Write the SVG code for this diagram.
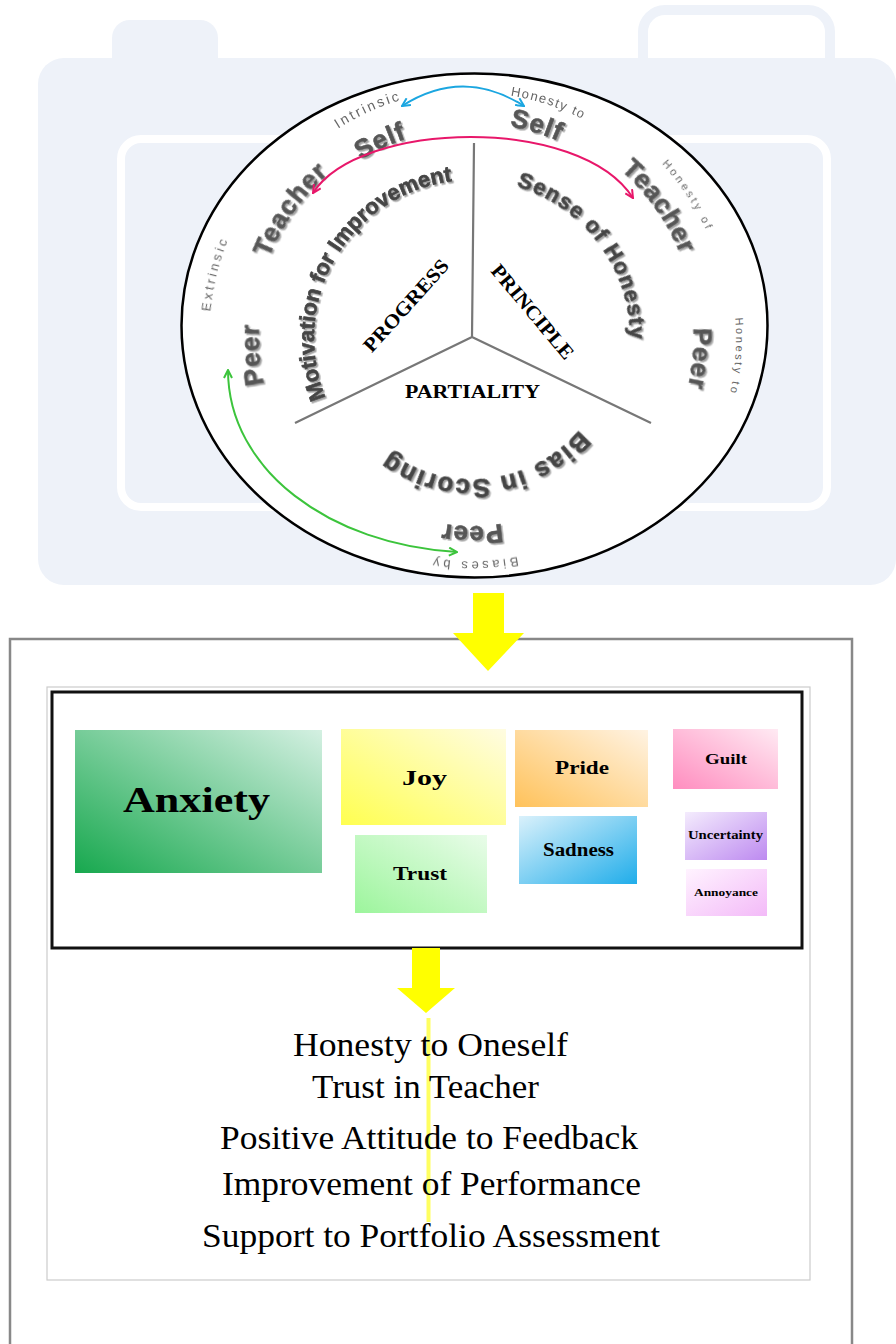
<svg xmlns="http://www.w3.org/2000/svg" width="896" height="1344" viewBox="0 0 896 1344">
<defs>
<style>
.bg{fill:#EEF2F9}
.w{font-family:"Liberation Sans",Arial,sans-serif;font-weight:bold;fill:#575757;stroke:#575757;stroke-width:0.6px;font-size:26px;letter-spacing:1px}
.t{font-family:"Liberation Sans",Arial,sans-serif;font-weight:bold;fill:#454545;stroke:#454545;stroke-width:0.7px;font-size:22px}
.s{font-family:"Liberation Sans",Arial,sans-serif;fill:#666;font-size:13px}
.tn{font-family:"Liberation Serif","Times New Roman",serif;font-weight:bold;fill:#000}
.ls{font-family:"Liberation Serif","Times New Roman",serif;fill:#000;font-size:33px}
.arr{fill:none;stroke-width:2}
</style>
<filter id="sh" x="-10%" y="-10%" width="120%" height="120%"><feDropShadow dx="1.6" dy="1.6" stdDeviation="0.6" flood-color="#999" flood-opacity="0.9"/></filter>
<path id="r141" d="M-140.5,-12.3 A141,141 0 0 1 140.5,-12.3"/>
<path id="r158" d="M-157.4,-13.8 A158,158 0 0 1 157.4,-13.8"/>
<path id="r188" d="M-187.3,-16.4 A188,188 0 0 1 187.3,-16.4"/>
<path id="r210" d="M-209.2,-18.3 A210,210 0 0 1 209.2,-18.3"/>
<path id="r213" d="M-212.2,-18.6 A213,213 0 0 1 212.2,-18.6"/>
<path id="r215" d="M-214.2,-18.7 A215,215 0 0 1 214.2,-18.7"/>
<path id="r218" d="M-217.2,-19.0 A218,218 0 0 1 217.2,-19.0"/>
<path id="r221" d="M-220.2,-19.3 A221,221 0 0 1 220.2,-19.3"/>
<path id="r224" d="M-223.1,-19.5 A224,224 0 0 1 223.1,-19.5"/>
<path id="r225" d="M-224.1,-19.6 A225,225 0 0 1 224.1,-19.6"/>
<path id="r245" d="M-244.1,-21.4 A245,245 0 0 1 244.1,-21.4"/>
<path id="r248" d="M-247.1,-21.6 A248,248 0 0 1 247.1,-21.6"/>
<path id="r258" d="M-257.0,-22.5 A258,258 0 0 1 257.0,-22.5"/>
<path id="r263" d="M-262.0,-22.9 A263,263 0 0 1 262.0,-22.9"/>
<path id="r264" d="M-263.0,-23.0 A264,264 0 0 1 263.0,-23.0"/>
<marker id="mB" viewBox="0 0 10 10" refX="9" refY="5" markerWidth="10" markerHeight="10" markerUnits="userSpaceOnUse" orient="auto-start-reverse"><path d="M1,1 L9,5 L1,9" fill="none" stroke="#1BA6E0" stroke-width="2"/></marker>
<marker id="mP" viewBox="0 0 10 10" refX="9" refY="5" markerWidth="10" markerHeight="10" markerUnits="userSpaceOnUse" orient="auto-start-reverse"><path d="M1,1 L9,5 L1,9" fill="none" stroke="#E8176A" stroke-width="2"/></marker>
<marker id="mG" viewBox="0 0 10 10" refX="9" refY="5" markerWidth="10" markerHeight="10" markerUnits="userSpaceOnUse" orient="auto-start-reverse"><path d="M1,1 L9,5 L1,9" fill="none" stroke="#3CC43C" stroke-width="2"/></marker>
<linearGradient id="gAnx" x1="0" y1="1" x2="1" y2="0"><stop offset="0" stop-color="#17A84E"/><stop offset="1" stop-color="#D4F0E2"/></linearGradient>
<linearGradient id="gJoy" x1="0" y1="1" x2="1" y2="0"><stop offset="0" stop-color="#FFFF50"/><stop offset="1" stop-color="#FFFCE2"/></linearGradient>
<linearGradient id="gTru" x1="0" y1="1" x2="1" y2="0"><stop offset="0" stop-color="#9CF59C"/><stop offset="1" stop-color="#E9FCE9"/></linearGradient>
<linearGradient id="gPri" x1="0" y1="1" x2="1" y2="0"><stop offset="0" stop-color="#FFC25A"/><stop offset="1" stop-color="#FFF3E3"/></linearGradient>
<linearGradient id="gGui" x1="0" y1="1" x2="1" y2="0"><stop offset="0" stop-color="#FF8DBF"/><stop offset="1" stop-color="#FFEAF3"/></linearGradient>
<linearGradient id="gSad" x1="0" y1="0" x2="1" y2="1"><stop offset="0" stop-color="#DAF1FB"/><stop offset="1" stop-color="#20ADEA"/></linearGradient>
<linearGradient id="gUnc" x1="0" y1="0" x2="1" y2="1"><stop offset="0" stop-color="#F4ECFD"/><stop offset="1" stop-color="#BD8AF0"/></linearGradient>
<linearGradient id="gAnn" x1="0" y1="0" x2="1" y2="1"><stop offset="0" stop-color="#FFF3FF"/><stop offset="1" stop-color="#F3BAF8"/></linearGradient>
</defs>
<rect width="896" height="1344" fill="#fff"/>

<g id="camera-background">
<rect x="643" y="10" width="187" height="80" rx="22" fill="#fff" stroke="#EEF2F9" stroke-width="10"/>
<rect class="bg" x="112" y="20" width="106" height="60" rx="18"/>
<rect class="bg" x="38" y="58" width="858" height="527" rx="26"/>
<rect x="121" y="139" width="706" height="368" rx="20" fill="none" stroke="#fff" stroke-width="8"/>
</g>

<g id="wheel">
<ellipse cx="474.5" cy="325.5" rx="293" ry="252" fill="#fff" stroke="#000" stroke-width="2.5"/>
<path d="M472 337 L474 143 M472 337 L295 423 M472 337 L651 423" stroke="#777" stroke-width="2.2" fill="none"/>
</g>

<g id="sector-labels">
<text class="tn" font-size="20" transform="translate(411 310) rotate(-48)" text-anchor="middle" textLength="117" lengthAdjust="spacingAndGlyphs">PROGRESS</text>
<text class="tn" font-size="20" transform="translate(527.5 316) rotate(50)" text-anchor="middle" textLength="117" lengthAdjust="spacingAndGlyphs">PRINCIPLE</text>
<text class="tn" font-size="19" x="405" y="398" textLength="135" lengthAdjust="spacingAndGlyphs">PARTIALITY</text>
</g>

<g id="curved-titles" filter="url(#sh)">
<text class="t" transform="translate(472 338) rotate(-59.75)" text-anchor="middle"><textPath href="#r158" startOffset="50%">Motivation for Improvement</textPath></text>
<text class="t" style="letter-spacing:1.3px" transform="translate(472 338) rotate(53.5)" text-anchor="middle"><textPath href="#r158" startOffset="50%">Sense of Honesty</textPath></text>
<text class="t" style="font-size:26px;letter-spacing:1.5px" transform="translate(472 338) rotate(173.5)" text-anchor="middle"><textPath href="#r141" startOffset="50%">Bias in Scoring</textPath></text>
</g>

<g id="outer-words" filter="url(#sh)">
<text class="w" transform="translate(472 338) rotate(-25)" text-anchor="middle"><textPath href="#r210" startOffset="50%">Self</textPath></text>
<text class="w" transform="translate(472 338) rotate(-54.7)" text-anchor="middle"><textPath href="#r218" startOffset="50%">Teacher</textPath></text>
<text class="w" transform="translate(472 338) rotate(-94.4)" text-anchor="middle"><textPath href="#r213" startOffset="50%">Peer</textPath></text>
<text class="w" transform="translate(472 338) rotate(17)" text-anchor="middle"><textPath href="#r215" startOffset="50%">Self</textPath></text>
<text class="w" transform="translate(472 338) rotate(54.9)" text-anchor="middle"><textPath href="#r225" startOffset="50%">Teacher</textPath></text>
<text class="w" transform="translate(472 338) rotate(95.2)" text-anchor="middle"><textPath href="#r221" startOffset="50%">Peer</textPath></text>
<text class="w" transform="translate(472 338) rotate(180)" text-anchor="middle"><textPath href="#r188" startOffset="50%">Peer</textPath></text>
</g>

<g id="outer-labels">
<text class="s" style="font-size:14px;letter-spacing:2.5px" transform="translate(472 338) rotate(-24.5)" text-anchor="middle"><textPath href="#r248" startOffset="50%">Intrinsic</textPath></text>
<text class="s" style="letter-spacing:1.5px" transform="translate(472 338) rotate(18)" text-anchor="middle"><textPath href="#r245" startOffset="50%">Honesty to</textPath></text>
<text class="s" style="font-size:11px;letter-spacing:3px" transform="translate(472 338) rotate(56.6)" text-anchor="middle"><textPath href="#r258" startOffset="50%">Honesty of</textPath></text>
<text class="s" style="letter-spacing:3px" transform="translate(472 338) rotate(-76)" text-anchor="middle"><textPath href="#r263" startOffset="50%">Extrinsic</textPath></text>
<text class="s" style="font-size:11px;letter-spacing:2.5px" transform="translate(472 338) rotate(94)" text-anchor="middle"><textPath href="#r264" startOffset="50%">Honesty to</textPath></text>
<text class="s" style="letter-spacing:3.5px" transform="translate(472 338) rotate(179.5)" text-anchor="middle"><textPath href="#r224" startOffset="50%">Biases by</textPath></text>
</g>

<g id="frames">
<rect x="10" y="639" width="842" height="720" fill="#fff" stroke="#888" stroke-width="2.5"/>
<rect x="47" y="687" width="763" height="593" fill="#fff" stroke="#ccc" stroke-width="1.2"/>
<rect x="52" y="692" width="750" height="256" fill="#fff" stroke="#111" stroke-width="3"/>
</g>

<g id="emotion-anxiety"><rect x="75" y="730" width="247" height="143" fill="url(#gAnx)"/><text class="tn" font-size="36" x="123" y="812" textLength="147" lengthAdjust="spacingAndGlyphs">Anxiety</text></g>
<g id="emotion-joy"><rect x="341" y="729" width="165" height="96" fill="url(#gJoy)"/><text class="tn" font-size="22" x="402" y="785" textLength="45" lengthAdjust="spacingAndGlyphs">Joy</text></g>
<g id="emotion-trust"><rect x="355" y="835" width="132" height="78" fill="url(#gTru)"/><text class="tn" font-size="19" x="393" y="880" textLength="54" lengthAdjust="spacingAndGlyphs">Trust</text></g>
<g id="emotion-pride"><rect x="515" y="730" width="133" height="77" fill="url(#gPri)"/><text class="tn" font-size="19" x="555" y="774" textLength="54" lengthAdjust="spacingAndGlyphs">Pride</text></g>
<g id="emotion-sadness"><rect x="519" y="816" width="118" height="68" fill="url(#gSad)"/><text class="tn" font-size="18" x="543" y="856" textLength="71" lengthAdjust="spacingAndGlyphs">Sadness</text></g>
<g id="emotion-guilt"><rect x="673" y="729" width="105" height="60" fill="url(#gGui)"/><text class="tn" font-size="15" x="705" y="764" textLength="42" lengthAdjust="spacingAndGlyphs">Guilt</text></g>
<g id="emotion-uncertainty"><rect x="685" y="812" width="82" height="48" fill="url(#gUnc)"/><text class="tn" font-size="12" x="688" y="839" textLength="75" lengthAdjust="spacingAndGlyphs">Uncertainty</text></g>
<g id="emotion-annoyance"><rect x="686" y="869" width="81" height="47" fill="url(#gAnn)"/><text class="tn" font-size="11" x="694" y="896" textLength="64" lengthAdjust="spacingAndGlyphs">Annoyance</text></g>

<g id="connectors">
<path class="arr" d="M402 106 Q463 67 524 106" stroke="#1BA6E0" marker-start="url(#mB)" marker-end="url(#mB)"/>
<path class="arr" d="M313 193 C360 120 580 115 633 198" stroke="#E8176A" marker-start="url(#mP)" marker-end="url(#mP)"/>
<path class="arr" d="M228 370 C228 470 330 545 457 552" stroke="#3CC43C" marker-start="url(#mG)" marker-end="url(#mG)"/>
<polygon points="473,593 504,593 504,633 524,633 488,671 453,633 473,633" fill="#FFFF00"/>
<polygon points="412,948 440,948 440,988 455,988 426,1013 397,988 412,988" fill="#FFFF00"/>
<line x1="428.5" y1="1018" x2="428.5" y2="1222" stroke="#FFFF60" stroke-width="4"/>
</g>

<g id="outcomes">
<text class="ls" x="293" y="1056" textLength="275" lengthAdjust="spacingAndGlyphs">Honesty to Oneself</text>
<text class="ls" x="312" y="1098" textLength="227" lengthAdjust="spacingAndGlyphs">Trust in Teacher</text>
<text class="ls" x="220" y="1149" textLength="418" lengthAdjust="spacingAndGlyphs">Positive Attitude to Feedback</text>
<text class="ls" x="222" y="1195" textLength="419" lengthAdjust="spacingAndGlyphs">Improvement of Performance</text>
<text class="ls" x="202" y="1247" textLength="458" lengthAdjust="spacingAndGlyphs">Support to Portfolio Assessment</text>
</g>
</svg>
